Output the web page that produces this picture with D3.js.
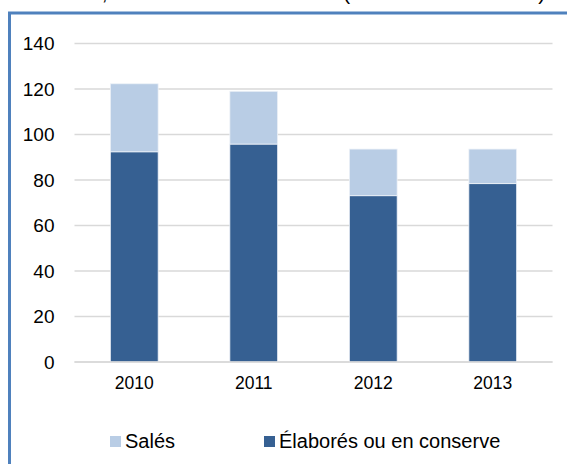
<!DOCTYPE html>
<html>
<head>
<meta charset="utf-8">
<script src="https://cdn.jsdelivr.net/npm/d3@7"></script>
<style>
  body { margin: 0; background: #fff; }
  svg { display: block; }
  text { font-family: Arial, "Liberation Sans", sans-serif; fill: #000; }
</style>
</head>
<body>
<script>
var width = 567,
    height = 464;

// data
var years = ['2010', '2011', '2012', '2013'];
var elabores = [92.4, 95.8, 73.1, 78.4];
var sales = [29.9, 23.2, 20.5, 15.2];
var yTicks = [0, 20, 40, 60, 80, 100, 120, 140];
var seriesNames = ['Salés', 'Élaborés ou en conserve'];

var svg = d3.select('body').append('svg')
    .attr('width', width)
    .attr('height', height);

var color = d3.scaleOrdinal().domain(['sales', 'elabores']).range(['#b9cde5', '#366092']);

var x = d3.scaleBand().domain(years).range([74.5, 552.5]).padding(0),
    y = d3.scaleLinear().domain([0, 140]).range([362, 43.5]);

var rows = years.map(function(yr, i) {
  return { year: yr, elabores: elabores[i], sales: sales[i] };
});
var stacked = d3.stack().keys(['elabores', 'sales'])(rows);

// title (only its bottom edge shows in the picture)
svg.append('text')
    .attr('x', 545)
    .attr('y', 0)
    .attr('text-anchor', 'end')
    .style('font-size', '20.5px')
    .text('Poissons salés, élaborés ou en conserve (en milliers de tonnes)');

// frame
svg.append('rect')
    .attr('x', 9.5)
    .attr('y', 13)
    .attr('width', 700)
    .attr('height', 600)
    .attr('fill', 'none')
    .attr('stroke', '#4f81bd')
    .attr('stroke-width', 3);

// gridlines
svg.append('g')
    .selectAll('line')
    .data(yTicks)
    .enter().append('line')
    .attr('x1', 74.5)
    .attr('x2', 552.5)
    .attr('y1', function(d) { return y(d); })
    .attr('y2', function(d) { return y(d); })
    .attr('stroke', '#d9d9d9')
    .attr('stroke-width', 1.5);

// y axis labels
var yAxis = svg.append('g')
    .attr('transform', 'translate(74.5,0)')
    .call(d3.axisLeft(y).tickValues(yTicks).tickSize(0).tickPadding(20));
yAxis.select('.domain').remove();
yAxis.selectAll('text').style('font-size', '19px').attr('fill', '#000');

// bars
var bw = x.bandwidth() * 0.4;
svg.selectAll('.serie')
    .data(stacked)
    .enter().append('g')
    .attr('class', 'serie')
    .attr('fill', function(d) { return color(d.key); })
    .selectAll('rect')
    .data(function(d) { return d; })
    .enter().append('rect')
    .attr('x', function(d) { return x(d.data.year) + (x.bandwidth() - bw) / 2; })
    .attr('y', function(d) { return y(d[1]); })
    .attr('width', bw)
    .attr('height', function(d) { return y(d[0]) - y(d[1]); })
    .attr('stroke', '#eef2f8')
    .attr('stroke-width', 0.8);

// baseline
svg.append('line')
    .attr('x1', 74.5).attr('x2', 552.5)
    .attr('y1', y(0)).attr('y2', y(0))
    .attr('stroke', '#d9d9d9')
    .attr('stroke-width', 1.5);

// x axis labels
var xAxis = svg.append('g')
    .attr('transform', 'translate(0,' + y(0) + ')')
    .call(d3.axisBottom(x).tickSize(0).tickPadding(15));
xAxis.select('.domain').remove();
xAxis.selectAll('text').style('font-size', '17.5px').attr('fill', '#000');

// legend
var legendX = [110, 264];
var legendKeys = ['sales', 'elabores'];
var legend = svg.selectAll('.legend')
    .data(seriesNames)
    .enter().append('g')
    .attr('class', 'legend')
    .attr('transform', function(d, i) { return 'translate(' + legendX[i] + ',436)'; });

legend.append('rect')
    .attr('width', 11)
    .attr('height', 11)
    .attr('fill', function(d, i) { return color(legendKeys[i]); });

legend.append('text')
    .attr('x', 15)
    .attr('y', 12)
    .style('font-size', '20px')
    .text(function(d) { return d; });
</script>
</body>
</html>
